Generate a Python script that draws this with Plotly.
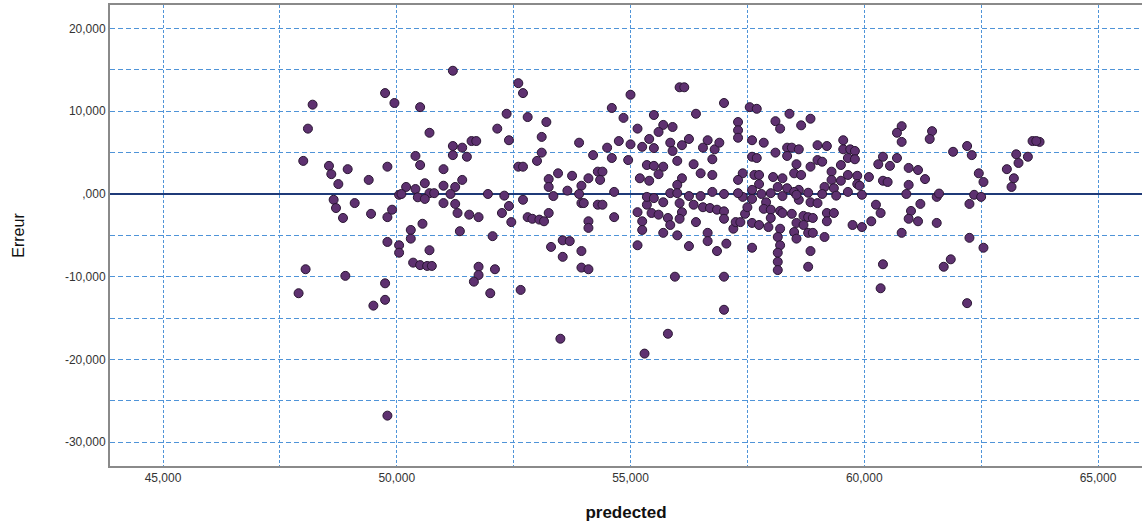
import plotly.graph_objects as go

# ---- data (predected, Erreur) grouped by region ----
pred_a = [48.2, 48.1, 48.0, 48.55, 48.6, 48.95, 48.75, 49.4, 49.75, 49.95,
          49.8, 48.65, 49.1, 48.7, 48.85, 49.45, 49.8, 49.9, 49.8, 50.05,
          48.05, 47.9, 48.9, 49.75, 49.75, 49.5, 49.8]
err_a = [10.8, 7.9, 4.0, 3.4, 2.4, 3.0, 1.2, 1.7, 12.2, 11.0,
         3.3, -0.7, -1.1, -1.7, -2.9, -2.4, -2.8, -1.9, -5.8, -0.1,
         -9.1, -12.0, -9.9, -10.8, -12.8, -13.5, -26.8]

pred_b = [51.2, 50.5, 50.7, 50.4, 50.5, 51.2, 51.2, 51.4, 51.5, 51.6,
          51.7, 51.0, 50.6, 50.2, 50.4, 51.0, 51.4, 51.25, 50.7, 50.8,
          50.1, 51.15, 51.95, 52.3, 52.15, 52.35, 52.4, 52.6, 52.7, 52.8,
          53.2, 53.1, 53.1, 53.0, 52.6, 52.7, 53.25, 53.25, 53.45, 53.75,
          53.9, 54.2, 53.95, 54.1, 54.3, 53.65, 53.9, 53.35]
err_b = [14.9, 10.5, 7.4, 4.6, 3.5, 5.8, 4.7, 5.6, 4.5, 6.4,
         6.4, 3.0, 1.3, 0.85, 0.6, 1.0, 1.7, 0.85, 0.1, 0.1,
         0.0, 0.0, 0.0, -0.2, 7.9, 9.7, 6.5, 13.4, 12.2, 9.3,
         8.7, 6.9, 5.0, 4.0, 3.3, 3.3, 1.8, 0.85, 2.5, 2.2,
         6.2, 4.7, 1.0, 1.9, 2.7, 0.4, 0.0, -0.25]

pred_c = [50.45, 50.6, 51.0, 51.25, 51.3, 51.55, 51.75, 52.4, 52.25, 52.45,
          52.7, 52.8, 52.9, 53.05, 53.15, 53.25, 53.95, 54.0, 54.3, 54.1,
          54.1, 50.55, 51.35, 50.3, 50.3, 50.05, 50.05, 50.7, 50.35, 50.5,
          50.65, 50.75, 52.05, 51.75, 52.1, 51.75, 51.65, 52.0, 52.65, 53.3,
          53.55, 53.7, 53.55, 53.95, 53.95, 54.1, 53.5]
err_c = [-0.4, -0.6, -1.1, -1.2, -2.3, -2.5, -2.8, -1.45, -2.3, -3.4,
         -0.7, -2.8, -3.0, -3.1, -3.3, -2.3, -1.1, -1.1, -1.3, -3.3,
         -4.1, -3.6, -4.5, -4.35, -5.4, -6.2, -7.1, -6.8, -8.3, -8.6,
         -8.7, -8.7, -5.1, -8.8, -9.1, -9.8, -10.6, -12.0, -11.6, -6.4,
         -5.6, -5.7, -7.6, -6.9, -8.9, -9.1, -17.5]

pred_d = [54.6, 54.85, 55.0, 55.15, 54.5, 54.6, 54.75, 55.0, 54.95, 55.25,
          55.4, 55.5, 55.5, 55.7, 55.6, 55.9, 56.05, 56.15, 56.4, 57.0,
          57.3, 57.3, 57.3, 57.55, 57.7, 58.1, 58.2, 58.4, 58.65, 58.85,
          55.85, 55.9, 56.1, 56.25, 56.0, 56.35, 56.55, 56.65, 56.8, 56.9,
          56.75, 55.35, 55.5, 55.7, 55.6, 55.2, 55.4, 56.1, 56.0, 56.5,
          56.75, 57.4, 57.3, 57.6, 57.7, 57.6, 57.85, 58.1, 58.35, 58.45,
          58.35, 58.6, 58.55, 58.5, 58.65, 58.85, 59.0, 59.0, 58.05, 58.25,
          58.15, 58.35, 58.6, 57.65, 57.75, 57.6, 57.75, 54.65, 54.4, 54.35,
          56.75]
err_d = [10.4, 9.2, 12.0, 7.9, 5.6, 4.35, 6.4, 6.0, 4.1, 5.7,
         6.65, 5.55, 9.55, 8.35, 7.5, 8.1, 12.9, 12.9, 9.7, 11.0,
         8.7, 7.7, 6.8, 10.5, 10.3, 8.8, 7.9, 9.7, 8.3, 9.1,
         6.2, 5.2, 5.9, 6.65, 4.0, 3.6, 5.6, 6.5, 5.4, 6.2,
         4.2, 3.5, 3.4, 3.3, 2.4, 1.9, 1.6, 1.9, 1.1, 2.5,
         2.3, 2.5, 1.7, 4.5, 4.35, 6.5, 6.2, 5.0, 5.6, 5.6,
         4.6, 5.4, 3.6, 2.5, 2.3, 3.3, 4.1, 5.9, 2.05, 1.9,
         0.85, 0.7, 0.5, 2.3, 2.3, 0.5, 1.2, 0.25, 2.7, 1.7,
         0.25]

pred_e = [54.65, 54.4, 55.15, 55.25, 55.25, 55.15, 55.35, 55.45, 55.6, 55.7,
          55.8, 55.85, 55.7, 56.0, 56.05, 56.1, 56.05, 56.35, 56.4, 56.55,
          56.7, 56.85, 57.0, 57.0, 56.65, 56.65, 56.25, 56.85, 57.05, 57.2,
          57.25, 57.35, 57.45, 57.5, 57.6, 57.6, 57.75, 57.9, 57.85, 58.0,
          58.0, 57.95, 58.2, 58.25, 58.45, 58.2, 58.15, 58.2, 58.15, 58.15,
          58.15, 58.55, 58.5, 58.55, 58.7, 58.8, 58.9, 58.7, 58.8, 58.9,
          58.85, 58.8, 58.6, 58.85, 59.0, 57.6, 55.95, 57.0, 57.0, 55.8,
          55.3, 55.35, 55.5, 55.85, 56.0, 56.5, 57.4, 58.0, 58.25, 58.5,
          56.25]
err_e = [-2.8, -1.3, -2.2, -3.3, -4.35, -6.2, -1.3, -2.3, -2.5, -1.0,
         -2.9, -3.75, -4.7, -5.0, -1.1, -2.2, -3.0, -1.3, -3.4, -1.6,
         -1.7, -1.9, -2.1, -3.0, -4.7, -5.7, -6.3, -6.9, -6.0, -4.2,
         -3.4, -3.4, -2.4, -1.6, -0.6, -3.5, -3.75, -1.0, -1.8, -1.9,
         -2.9, -4.0, -2.05, -2.3, -2.4, -4.2, -5.2, -6.2, -7.1, -8.2,
         -9.2, -3.5, -4.6, -5.4, -2.65, -2.8, -2.9, -3.75, -4.7, -4.7,
         -6.9, -8.8, -0.7, -1.0, -1.1, -6.5, -10.0, -10.0, -14.0, -16.9,
         -19.3, -0.35, -0.5, 0.1, 0.1, -0.25, -0.35, 0.1, -0.25, 0.25,
         -0.25]

pred_f = [60.8, 60.7, 60.8, 61.45, 61.4, 59.55, 59.2, 59.55, 59.7, 59.8,
          59.65, 59.8, 59.1, 59.5, 59.3, 59.65, 59.85, 60.1, 59.3, 59.5,
          59.85, 59.9, 59.15, 59.35, 59.65, 60.4, 60.7, 60.3, 60.55, 60.95,
          61.15, 61.3, 60.4, 60.5, 60.95, 61.9, 62.2, 62.3, 62.45, 62.55,
          63.25, 63.5, 63.3, 63.05, 63.2, 63.15, 63.6, 63.75, 63.68, 61.55,
          62.35, 62.5, 59.2, 59.35, 59.2, 59.15, 59.75, 59.95, 60.15, 60.25,
          60.35, 61.2, 61.0, 60.95, 61.15, 61.55, 60.8, 62.25, 62.25, 62.55,
          60.4, 61.85, 61.7, 60.35, 62.2]
err_f = [8.2, 7.4, 6.3, 7.6, 6.65, 6.5, 5.8, 5.4, 5.4, 5.2,
         4.35, 4.2, 3.9, 3.5, 2.7, 2.3, 2.2, 2.05, 1.7, 1.6,
         1.2, 1.0, 0.85, 0.7, 0.25, 4.5, 4.35, 3.6, 3.4, 3.15,
         2.9, 1.8, 1.6, 1.45, 1.1, 5.1, 5.8, 4.7, 2.5, 1.45,
         4.8, 4.5, 3.75, 3.0, 1.9, 0.85, 6.4, 6.3, 6.4, -0.35,
         -0.1, -0.35, -2.3, -2.3, -3.3, -5.2, -3.75, -4.0, -3.3, -1.3,
         -2.3, -1.2, -2.05, -3.0, -3.3, -3.5, -4.7, -1.2, -5.3, -6.5,
         -8.5, -7.9, -8.8, -11.4, -13.2]

pred_g = [57.0, 57.3, 57.8, 58.55, 59.1, 59.95, 60.9, 61.6, 58.8, 59.4]
err_g = [0.0, 0.1, 0.0, -0.1, 0.0, -0.1, 0.0, 0.05, 0.15, -0.2]

# grid positions (labelled ones carry text, intermediate ones are blank)
x_tickvals = [45, 47.5, 50, 52.5, 55, 57.5, 60, 62.5, 65]
x_ticktext = ["45,000", "", "50,000", "", "55,000", "", "60,000", "", "65,000"]
y_tickvals = [20, 15, 10, 5, 0, -5, -10, -15, -20, -25, -30]
y_ticktext = ["20,000", "", "10,000", "", ",000", "", "-10,000", "",
              "-20,000", "", "-30,000"]

predected = pred_a + pred_b + pred_c + pred_d + pred_e + pred_f + pred_g
erreur = err_a + err_b + err_c + err_d + err_e + err_f + err_g

grid_col = "#4f94d8"

fig = go.Figure()
fig.add_trace(go.Scatter(
    x=predected, y=erreur, mode="markers",
    marker=dict(size=9, color="#5e3170",
                line=dict(color="#2a1633", width=1)),
    showlegend=False,
))

fig.update_layout(
    width=1142, height=528,
    margin=dict(l=110, r=0, t=5, b=62),
    paper_bgcolor="white", plot_bgcolor="white",
    font=dict(family="Liberation Sans, Arial, sans-serif", size=12, color="#333333"),
    xaxis=dict(
        range=[43.866, 65.941],
        tickvals=x_tickvals, ticktext=x_ticktext,
        showgrid=True, gridcolor=grid_col, gridwidth=1, griddash="3px,2px",
        showline=True, linecolor="#8a8a8a", linewidth=2, mirror=True,
        zeroline=False, ticks="", ticklen=0,
        tickfont=dict(size=12, color="#333333"),
        title=dict(text="<b>predected</b>", font=dict(size=17, color="#111111"),
                   standoff=22),
    ),
    yaxis=dict(
        range=[-32.89, 22.85],
        tickvals=y_tickvals, ticktext=y_ticktext,
        showgrid=True, gridcolor=grid_col, gridwidth=1, griddash="5px,3px",
        showline=True, linecolor="#8a8a8a", linewidth=2,
        zeroline=True, zerolinecolor="#1f3a78", zerolinewidth=2,
        ticks="", ticklen=0,
        tickfont=dict(size=12, color="#333333"),
        title=dict(text="Erreur", font=dict(size=16, color="#111111"),
                   standoff=36),
    ),
)

fig.write_html("out.html")
